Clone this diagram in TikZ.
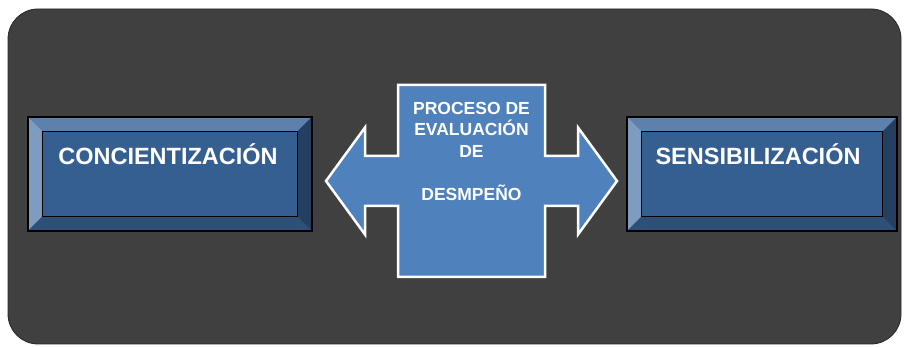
\documentclass[tikz,border=0pt]{standalone}
\usepackage{fontspec}
\setmainfont{Liberation Sans}
\usetikzlibrary{positioning, calc}
\definecolor{bgdark}{RGB}{64,64,64}
\definecolor{faceblue}{RGB}{54,95,145}
\definecolor{bevtop}{RGB}{93,128,172}
\definecolor{bevleft}{RGB}{126,156,192}
\definecolor{bevbot}{RGB}{45,79,120}
\definecolor{bevright}{RGB}{36,63,96}
\definecolor{crossblue}{RGB}{79,129,189}
\tikzset{
  panel/.style      = {draw=black!85, fill=bgdark, rounded corners=30pt, line width=0.8pt},
  bevelbox/.style   = {rectangle, fill=faceblue, minimum height=114pt, inner sep=0pt},
  boxtext/.style    = {text=white, font=\bfseries\fontsize{23.5}{26}\selectfont, inner sep=0pt},
  crossarrow/.style = {draw=white, fill=crossblue, line width=2.5pt, line join=miter},
  crosstext/.style  = {text=white, font=\bfseries\fontsize{17.5}{21.5}\selectfont,
                       align=center, inner sep=0pt},
}
\newcommand{\drawbevel}[1]{%
  \fill[bevtop] (#1.north west) -- (#1.north east) -- ([shift={(-15,-15)}]#1.north east)
    -- ([shift={(15,-15)}]#1.north west) -- cycle;
  \fill[bevleft] (#1.north west) -- ([shift={(15,-15)}]#1.north west)
    -- ([shift={(15,15)}]#1.south west) -- (#1.south west) -- cycle;
  \fill[bevbot] (#1.south west) -- ([shift={(15,15)}]#1.south west)
    -- ([shift={(-15,15)}]#1.south east) -- (#1.south east) -- cycle;
  \fill[bevright] (#1.south east) -- ([shift={(-15,15)}]#1.south east)
    -- ([shift={(-15,-15)}]#1.north east) -- (#1.north east) -- cycle;
  \draw[black, fill=faceblue, line width=0.8pt] ([shift={(15,15)}]#1.south west)
    rectangle ([shift={(-15,-15)}]#1.north east);
  \draw[black, line width=1.5pt] (#1.north west) rectangle (#1.south east);
}

\begin{document}
\begin{tikzpicture}[x=1pt, y=1pt]
  \useasboundingbox (0,0) rectangle (904,347);
  \draw[panel] (8,3) rectangle (901,338);

  % side boxes
  \node[bevelbox, minimum width=284pt] (conc) at (170,173) {};
  \drawbevel{conc}
  \node[boxtext] (conctext) at ($(conc.north)+(-2,-37)$) {CONCIENTIZACIÓN};

  \node[bevelbox, minimum width=270pt] (sens) at (762,173) {};
  \drawbevel{sens}
  \node[boxtext] (senstext) at ($(sens.north)+(-4,-37)$) {SENSIBILIZACIÓN};

  % double arrow with cross
  \coordinate (mid) at (471.5,166);
  \draw[crossarrow, shift={(mid)}] (-73.5,96) -- (73.5,96) -- (73.5,25) -- (106.5,25)
    -- (106.5,53.5) -- (145.5,0) -- (106.5,-53.5) -- (106.5,-25) -- (73.5,-25)
    -- (73.5,-96) -- (-73.5,-96) -- (-73.5,-25) -- (-106.5,-25) -- (-106.5,-53.5)
    -- (-145.5,0) -- (-106.5,53.5) -- (-106.5,25) -- (-73.5,25) -- cycle;
  \node[crosstext, anchor=north] (proc) at ($(mid)+(0,79)$)
    {PROCESO DE\\EVALUACIÓN\\DE\\[21.5pt]DESMPEÑO};
\end{tikzpicture}
\end{document}
